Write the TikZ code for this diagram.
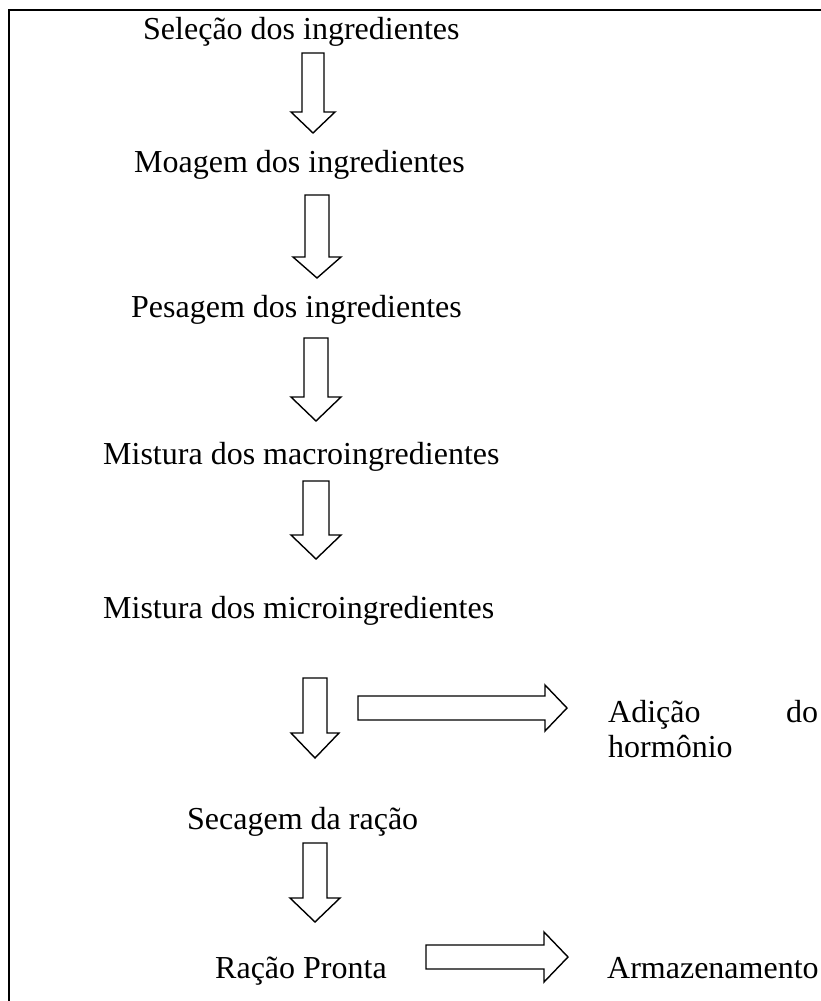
\documentclass[tikz,border=0pt]{standalone}
\usepackage{fontspec}
\setmainfont{Liberation Serif}
\newcommand{\DArrow}[6]{% cx, top, headstart, tip, shaft half, head half
  \draw[blockarrow] (#1-#5,#2) -- (#1+#5,#2) -- (#1+#5,#3) -- (#1+#6,#3) -- (#1,#4) -- (#1-#6,#3) -- (#1-#5,#3) -- cycle;}
\newcommand{\RArrow}[6]{% cy, left, headstart, tip, shaft half, head half
  \draw[blockarrow] (#2,#1-#5) -- (#3,#1-#5) -- (#3,#1-#6) -- (#4,#1) -- (#3,#1+#6) -- (#3,#1+#5) -- (#2,#1+#5) -- cycle;}
\begin{document}
\begin{tikzpicture}[x=1pt,y=-1pt,
  lbl/.style={anchor=base west,inner sep=0pt,font=\fontsize{32}{38}\selectfont},
  blockarrow/.style={draw=black,fill=white,line width=1.4pt,line join=miter},
  frameline/.style={draw=black,line width=2.6pt}]
\useasboundingbox (0,0) rectangle (821,1001);
\fill[white] (0,0) rectangle (821,1001);
% frame (top and left only)
\draw[frameline] (821,10) -- (9,10) -- (9,1001);
% texts
\node[lbl] (sel) at (143,39) {Seleção dos ingredientes};
\node[lbl] (moa) at (134,172) {Moagem dos ingredientes};
\node[lbl] (pes) at (131,317) {Pesagem dos ingredientes};
\node[lbl] (mac) at (103,464) {Mistura dos macroingredientes};
\node[lbl] (mic) at (103,618) {Mistura dos microingredientes};
\node[lbl] (adi) at (608,722) {\hbox to 210pt{Adição\hfill do}};
\node[lbl] (hor) at (608,757) {hormônio};
\node[lbl] (sec) at (187,829) {Secagem da ração};
\node[lbl] (rac) at (215,978) {Ração Pronta};
\node[lbl] (arm) at (607,978) {Armazenamento};
% down arrows
\DArrow{313}{53}{112}{133}{11}{22}
\DArrow{317}{195}{257}{278}{12}{24}
\DArrow{316}{338}{397}{421}{12}{25}
\DArrow{316}{481}{535}{559}{13}{25}
\DArrow{315}{678}{733}{758}{12}{24}
\DArrow{315}{843}{898}{922}{12}{25}
% right arrows
\RArrow{708}{358}{545}{567}{12}{23}
\RArrow{957}{426}{544}{568}{12}{25}
\end{tikzpicture}
\end{document}
